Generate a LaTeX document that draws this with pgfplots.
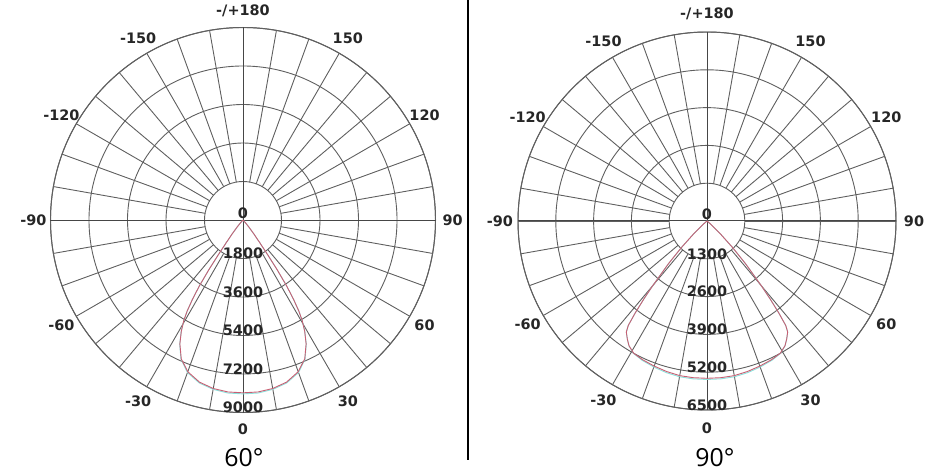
\documentclass[border=0pt]{standalone}
\usepackage{fontspec}
\setmainfont{DejaVu Sans}
\newfontfamily\titlefont{Open Sans}
\usepackage{pgfplots}
\usepackage{pgfplotstable}
\usepgfplotslibrary{polar}
\pgfplotsset{compat=1.18}

\definecolor{gridc}{RGB}{95,95,95}
\definecolor{axisc}{RGB}{70,70,70}
\definecolor{curveR}{RGB}{200,95,115}
\definecolor{curveC}{RGB}{140,225,220}

% intensity curves, angle measured from nadir (0 = down)
\pgfplotstableread{
a i
-45 0
-42 150
-40 400
-38 800
-36.5 1300
-35.5 1900
-34.5 2800
-33.5 3700
-32.5 4400
-31.5 5000
-30.5 5450
-29 5950
-27 6500
-24 7100
-20 7550
-15 7850
-10 8000
-5 8070
0 8080
5 8070
10 8000
15 7850
20 7550
24 7100
27 6500
29 5950
30.5 5450
31.5 5000
32.5 4400
33.5 3700
34.5 2800
35.5 1900
36.5 1300
38 800
40 400
42 150
45 0
}\sixtyR

\pgfplotstableread{
a i
-45 0
-42 150
-40 400
-38 800
-36.5 1300
-35.5 1900
-34.5 2800
-33.5 3700
-32.5 4400
-31.5 5000
-30.5 5450
-29 5960
-27 6520
-24 7130
-20 7590
-15 7890
-10 8040
-5 8120
0 8130
5 8120
10 8040
15 7890
20 7590
24 7130
27 6520
29 5960
30.5 5450
31.5 5000
32.5 4400
33.5 3700
34.5 2800
35.5 1900
36.5 1300
38 800
40 400
42 150
45 0
}\sixtyC

\pgfplotstableread{
a i
-60 0
-50 100
-48 250
-46 650
-44 1250
-42 2000
-40 2900
-39 3450
-38 4000
-37 4500
-36 4720
-34 4900
-32 5060
-29 5200
-25 5260
-20 5310
-15 5360
-10 5400
-5 5410
0 5410
5 5410
10 5400
15 5360
20 5310
25 5260
29 5200
32 5060
34 4900
36 4720
37 4500
38 4000
39 3450
40 2900
42 2000
44 1250
46 650
48 250
50 100
60 0
}\ninetyR

\pgfplotstableread{
a i
-60 0
-50 100
-48 250
-46 650
-44 1250
-42 2000
-40 2900
-39 3450
-38 4000
-37 4500
-36 4720
-34 4900
-32 5065
-29 5210
-25 5285
-20 5345
-15 5400
-10 5440
-5 5450
0 5450
5 5450
10 5440
15 5400
20 5345
25 5285
29 5210
32 5065
34 4900
36 4720
37 4500
38 4000
39 3450
40 2900
42 2000
44 1250
46 650
48 250
50 100
60 0
}\ninetyC

\tikzset{lbl/.style={font=\bfseries\fontsize{14.5}{16}\selectfont, inner sep=0pt, text=black!85}}

% angle labels round the outer circle (data angle = chart angle - 90)
\newcommand\anglelabels[1]{%
  \node[lbl] at (axis cs:-90,#1) {0};
  \node[lbl] at (axis cs:-60,#1) {30};
  \node[lbl] at (axis cs:-30,#1) {60};
  \node[lbl] at (axis cs:0,#1) {90};
  \node[lbl] at (axis cs:30,#1) {120};
  \node[lbl] at (axis cs:60,#1) {150};
  \node[lbl] at (axis cs:90,#1) {-/+180};
  \node[lbl] at (axis cs:120,#1) {-150};
  \node[lbl] at (axis cs:150,#1) {-120};
  \node[lbl] at (axis cs:180,#1) {-90};
  \node[lbl] at (axis cs:210,#1) {-60};
  \node[lbl] at (axis cs:240,#1) {-30};
}

\pgfplotsset{
  lamp/.style={
    scale only axis,
    width=#1, height=#1,
    anchor=center,
    clip=false,
    xtick=\empty,
    ymin=0,
    yticklabels={},
    ymajorgrids,
    major tick length=0pt,
    major grid style={gridc, line width=0.9bp},
    axis line style={gridc, line width=1bp},
  },
}

\begin{document}
\begin{tikzpicture}
\path[use as bounding box] (0,0) rectangle (937bp,471bp);

% 60 degree beam
\begin{polaraxis}[lamp=385bp, at={(243bp,251bp)}, ymax=9000, ytick={1800,3600,...,9000}]
  \pgfplotsinvokeforeach{0,10,...,350}{
    \draw[gridc, line width=0.9bp] (axis cs:#1,1800) -- (axis cs:#1,9000);
  }
  \draw[axisc, line width=1bp] (axis cs:0,9000) -- (axis cs:180,9000);
  \draw[axisc, line width=1bp] (axis cs:90,9000) -- (axis cs:270,9000);
  \addplot[curveC, line width=0.9bp, mark=none] table[x expr=\thisrow{a}-90, y=i] {\sixtyC};
  \addplot[curveR, line width=0.9bp, mark=none] table[x expr=\thisrow{a}-90, y=i] {\sixtyR};
  \node[lbl, anchor=south, yshift=1.5bp] at (axis cs:0,0) {0};
  \pgfplotsinvokeforeach{1800,3600,5400,7200,9000}{
    \node[lbl, yshift=5bp] at (axis cs:-90,#1) {#1};
  }
  \anglelabels{9800}
\end{polaraxis}

% 90 degree beam
\begin{polaraxis}[lamp=378bp, at={(707bp,250bp)}, ymax=6500, ytick={1300,2600,...,6500}]
  \pgfplotsinvokeforeach{0,10,...,350}{
    \draw[gridc, line width=0.9bp] (axis cs:#1,1300) -- (axis cs:#1,6500);
  }
  \draw[axisc, line width=1bp] (axis cs:0,6500) -- (axis cs:180,6500);
  \draw[axisc, line width=1bp] (axis cs:90,6500) -- (axis cs:270,6500);
  \addplot[curveC, line width=0.9bp, mark=none] table[x expr=\thisrow{a}-90, y=i] {\ninetyC};
  \addplot[curveR, line width=0.9bp, mark=none] table[x expr=\thisrow{a}-90, y=i] {\ninetyR};
  \node[lbl, anchor=south, yshift=1.5bp] at (axis cs:0,0) {0};
  \pgfplotsinvokeforeach{1300,2600,3900,5200,6500}{
    \node[lbl, yshift=5bp] at (axis cs:-90,#1) {#1};
  }
  \anglelabels{7120}
\end{polaraxis}

\draw[black, line width=2bp] (467.5bp,471bp) -- (467.5bp,11bp);
\node[font=\titlefont\fontsize{25}{28}\selectfont, anchor=base] at (244bp,5bp) {60°};
\node[font=\titlefont\fontsize{25}{28}\selectfont, anchor=base] at (715bp,5bp) {90°};
\end{tikzpicture}
\end{document}
